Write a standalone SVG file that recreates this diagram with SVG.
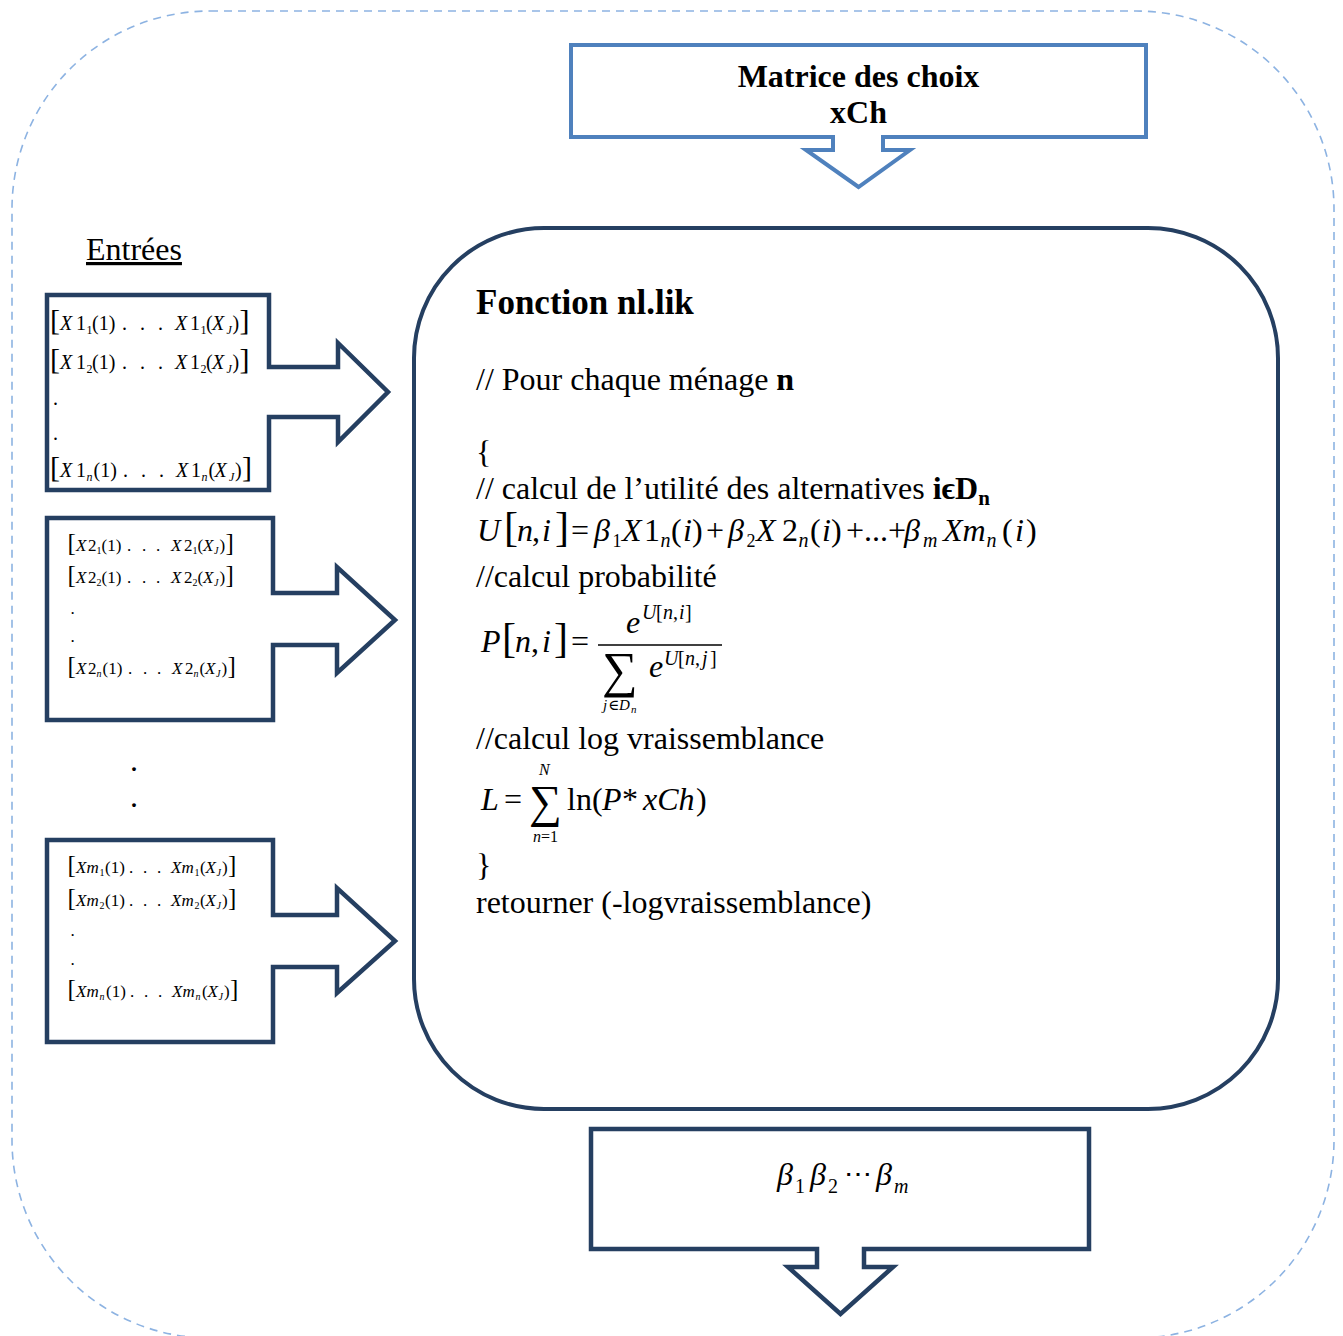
<svg xmlns="http://www.w3.org/2000/svg" width="1343" height="1336" viewBox="0 0 1343 1336">
<style>
.t{font-family:"Liberation Serif","Times New Roman","DejaVu Serif",serif;fill:#000}
.i{font-style:italic}
.n{font-style:normal}
.b{font-weight:bold}
.navy{fill:#fff;stroke:#253F61;stroke-width:4.5;stroke-linejoin:miter}
.blue{fill:#fff;stroke:#4F81BD;stroke-width:4;stroke-linejoin:miter}
.frame{fill:none;stroke:#8DB3E2;stroke-width:1.6;stroke-dasharray:8 6}
.r1{font-size:20px}
.r2{font-size:17px}
</style>
<rect id="frame" class="frame" x="12" y="11" width="1322" height="1327" rx="198" ry="198"/>

<g id="matrice-choix">
<path class="blue" d="M571,45 H1146 V137 H883 V150 H910 L858.5,187 L806,150 H833 V137 H571 Z"/>
<text class="t b" font-size="32" x="858.5" y="87" text-anchor="middle">Matrice des choix</text>
<text class="t b" font-size="32" x="858.5" y="123" text-anchor="middle">xCh</text>
</g>

<g id="entrees-label">
<text class="t" font-size="32" x="86" y="260" text-decoration="underline">Entrées</text>
</g>

<g id="input-x1">
<path class="navy" d="M47,295 H269 V367 H338 V343 L388,392 L338,442 V417 H269 V490 H47 Z"/>
<text class="t r1" y="330"><tspan x="50" font-size="30">[</tspan><tspan x="60" class="i">X</tspan><tspan x="76">1</tspan><tspan x="86.5" dy="4" font-size="12">1</tspan><tspan x="92" dy="-4">(1)</tspan><tspan x="122">.</tspan><tspan x="140">.</tspan><tspan x="158">.</tspan><tspan x="175" class="i">X</tspan><tspan x="190">1</tspan><tspan x="200.5" dy="4" font-size="12">1</tspan><tspan x="206" dy="-4">(</tspan><tspan x="212" class="i">X</tspan><tspan x="226.5" dy="4" font-size="12" class="i">J</tspan><tspan x="232.5" dy="-4">)</tspan><tspan x="239.5" font-size="30">]</tspan></text>
<text class="t r1" y="369"><tspan x="50" font-size="30">[</tspan><tspan x="60" class="i">X</tspan><tspan x="76">1</tspan><tspan x="86.5" dy="4" font-size="12">2</tspan><tspan x="92" dy="-4">(1)</tspan><tspan x="122">.</tspan><tspan x="140">.</tspan><tspan x="158">.</tspan><tspan x="175" class="i">X</tspan><tspan x="190">1</tspan><tspan x="200.5" dy="4" font-size="12">2</tspan><tspan x="206" dy="-4">(</tspan><tspan x="212" class="i">X</tspan><tspan x="226.5" dy="4" font-size="12" class="i">J</tspan><tspan x="232.5" dy="-4">)</tspan><tspan x="239.5" font-size="30">]</tspan></text>
<text class="t r1" x="53" y="405">.</text>
<text class="t r1" x="53" y="440">.</text>
<text class="t r1" y="477"><tspan x="50" font-size="30">[</tspan><tspan x="60" class="i">X</tspan><tspan x="76">1</tspan><tspan x="86.5" dy="4" font-size="12" class="i">n</tspan><tspan x="93.5" dy="-4">(1)</tspan><tspan x="123">.</tspan><tspan x="141">.</tspan><tspan x="159">.</tspan><tspan x="176" class="i">X</tspan><tspan x="191">1</tspan><tspan x="201.5" dy="4" font-size="12" class="i">n</tspan><tspan x="208.5" dy="-4">(</tspan><tspan x="214.5" class="i">X</tspan><tspan x="229" dy="4" font-size="12" class="i">J</tspan><tspan x="235" dy="-4">)</tspan><tspan x="242" font-size="30">]</tspan></text>
</g>

<g id="input-x2">
<path class="navy" d="M47,518 H273 V593 H337 V567 L395,620 L337,673 V645 H273 V720 H47 Z"/>
<text class="t r2" y="551"><tspan x="67.5" font-size="25">[</tspan><tspan x="76" class="i">X</tspan><tspan x="88">2</tspan><tspan x="96.5" dy="3" font-size="10">1</tspan><tspan x="101.5" dy="-3">(1)</tspan><tspan x="127">.</tspan><tspan x="142">.</tspan><tspan x="156">.</tspan><tspan x="171" class="i">X</tspan><tspan x="184">2</tspan><tspan x="192.5" dy="3" font-size="10">1</tspan><tspan x="197.5" dy="-3">(</tspan><tspan x="203" class="i">X</tspan><tspan x="214" dy="3" font-size="10" class="i">J</tspan><tspan x="219.5" dy="-3">)</tspan><tspan x="225.5" font-size="25">]</tspan></text>
<text class="t r2" y="583"><tspan x="67.5" font-size="25">[</tspan><tspan x="76" class="i">X</tspan><tspan x="88">2</tspan><tspan x="96.5" dy="3" font-size="10">2</tspan><tspan x="101.5" dy="-3">(1)</tspan><tspan x="127">.</tspan><tspan x="142">.</tspan><tspan x="156">.</tspan><tspan x="171" class="i">X</tspan><tspan x="184">2</tspan><tspan x="192.5" dy="3" font-size="10">2</tspan><tspan x="197.5" dy="-3">(</tspan><tspan x="203" class="i">X</tspan><tspan x="214" dy="3" font-size="10" class="i">J</tspan><tspan x="219.5" dy="-3">)</tspan><tspan x="225.5" font-size="25">]</tspan></text>
<text class="t r2" x="70.5" y="614">.</text>
<text class="t r2" x="70.5" y="642">.</text>
<text class="t r2" y="674"><tspan x="67.5" font-size="25">[</tspan><tspan x="76" class="i">X</tspan><tspan x="88">2</tspan><tspan x="96.5" dy="3" font-size="10" class="i">n</tspan><tspan x="102.5" dy="-3">(1)</tspan><tspan x="128">.</tspan><tspan x="143">.</tspan><tspan x="157">.</tspan><tspan x="172" class="i">X</tspan><tspan x="185">2</tspan><tspan x="193.5" dy="3" font-size="10" class="i">n</tspan><tspan x="199.5" dy="-3">(</tspan><tspan x="205" class="i">X</tspan><tspan x="216" dy="3" font-size="10" class="i">J</tspan><tspan x="221.5" dy="-3">)</tspan><tspan x="227.5" font-size="25">]</tspan></text>
</g>

<g id="input-xm">
<path class="navy" d="M47,840 H273 V915 H337 V888 L395,941 L337,993 V967 H273 V1042 H47 Z"/>
<text class="t r2" y="873"><tspan x="67.5" font-size="25">[</tspan><tspan x="76" class="i">Xm</tspan><tspan x="99.5" dy="3" font-size="10">1</tspan><tspan x="105" dy="-3">(1)</tspan><tspan x="129">.</tspan><tspan x="143">.</tspan><tspan x="157">.</tspan><tspan x="171" class="i">Xm</tspan><tspan x="194.5" dy="3" font-size="10">1</tspan><tspan x="200" dy="-3">(</tspan><tspan x="205.5" class="i">X</tspan><tspan x="216.5" dy="3" font-size="10" class="i">J</tspan><tspan x="222" dy="-3">)</tspan><tspan x="228" font-size="25">]</tspan></text>
<text class="t r2" y="906"><tspan x="67.5" font-size="25">[</tspan><tspan x="76" class="i">Xm</tspan><tspan x="99.5" dy="3" font-size="10">2</tspan><tspan x="105" dy="-3">(1)</tspan><tspan x="129">.</tspan><tspan x="143">.</tspan><tspan x="157">.</tspan><tspan x="171" class="i">Xm</tspan><tspan x="194.5" dy="3" font-size="10">2</tspan><tspan x="200" dy="-3">(</tspan><tspan x="205.5" class="i">X</tspan><tspan x="216.5" dy="3" font-size="10" class="i">J</tspan><tspan x="222" dy="-3">)</tspan><tspan x="228" font-size="25">]</tspan></text>
<text class="t r2" x="70.5" y="936">.</text>
<text class="t r2" x="70.5" y="965">.</text>
<text class="t r2" y="997"><tspan x="67.5" font-size="25">[</tspan><tspan x="76" class="i">Xm</tspan><tspan x="99.5" dy="3" font-size="10" class="i">n</tspan><tspan x="106" dy="-3">(1)</tspan><tspan x="130">.</tspan><tspan x="144">.</tspan><tspan x="158">.</tspan><tspan x="172" class="i">Xm</tspan><tspan x="195.5" dy="3" font-size="10" class="i">n</tspan><tspan x="202" dy="-3">(</tspan><tspan x="207.5" class="i">X</tspan><tspan x="218.5" dy="3" font-size="10" class="i">J</tspan><tspan x="224" dy="-3">)</tspan><tspan x="230" font-size="25">]</tspan></text>
</g>

<g id="ellipsis">
<text class="t" font-size="32" x="130" y="771">.</text>
<text class="t" font-size="32" x="130" y="807">.</text>
</g>

<g id="fonction-nl-lik">
<rect class="navy" x="414" y="228" width="864" height="881" rx="130" ry="130" style="stroke-width:4"/>
<text class="t b" font-size="35" x="476" y="314">Fonction nl.lik</text>
<text class="t" font-size="32" x="476" y="390">// Pour chaque ménage <tspan class="b">n</tspan></text>
<text class="t" font-size="32" x="476" y="463">{</text>
<text class="t" font-size="32" x="476" y="499">// calcul de l’utilité des alternatives <tspan class="b">iϵD</tspan><tspan class="b" font-size="21" dy="6">n</tspan></text>

<text class="t i" font-size="32" y="541"><tspan x="477">U</tspan><tspan x="504" class="n" font-size="42">[</tspan><tspan x="517">n</tspan><tspan x="532" class="n">,</tspan><tspan x="542">i</tspan><tspan x="555" class="n" font-size="42">]</tspan><tspan x="571" class="n">=</tspan><tspan x="594">β</tspan><tspan x="612.5" dy="6" font-size="18" class="n">1</tspan><tspan x="622" dy="-6">X</tspan><tspan x="644" class="n">1</tspan><tspan x="660.5" dy="6" font-size="20">n</tspan><tspan x="671" dy="-6" class="n">(</tspan><tspan x="683">i</tspan><tspan x="692" class="n">)</tspan><tspan x="706" class="n">+</tspan><tspan x="728">β</tspan><tspan x="746.5" dy="6" font-size="18" class="n">2</tspan><tspan x="756" dy="-6">X</tspan><tspan x="782" class="n">2</tspan><tspan x="798.5" dy="6" font-size="20">n</tspan><tspan x="810" dy="-6" class="n">(</tspan><tspan x="822">i</tspan><tspan x="831" class="n">)</tspan><tspan x="846" class="n">+...+</tspan><tspan x="904">β</tspan><tspan x="923" dy="6" font-size="20">m</tspan><tspan x="943" dy="-6">Xm</tspan><tspan x="986.5" dy="6" font-size="20">n</tspan><tspan x="1002" dy="-6" class="n">(</tspan><tspan x="1015">i</tspan><tspan x="1026" class="n">)</tspan></text>

<text class="t" font-size="32" x="476" y="587">//calcul probabilité</text>

<text class="t i" font-size="32" y="652"><tspan x="481">P</tspan><tspan x="502" class="n" font-size="42">[</tspan><tspan x="515">n</tspan><tspan x="531" class="n">,</tspan><tspan x="542">i</tspan><tspan x="554" class="n" font-size="42">]</tspan><tspan x="571" class="n">=</tspan></text>
<text class="t i" font-size="32" x="626" y="633">e</text>
<text class="t i" font-size="20" y="619"><tspan x="642">U</tspan><tspan x="656" class="n">[</tspan><tspan x="663">n</tspan><tspan x="673" class="n">,</tspan><tspan x="679">i</tspan><tspan x="685" class="n">]</tspan></text>
<line x1="598" y1="645" x2="722" y2="645" stroke="#000" stroke-width="1.3"/>
<text class="t" font-size="50" x="602" y="687">∑</text>
<text class="t i" font-size="32" x="649" y="677">e</text>
<text class="t i" font-size="20" y="665"><tspan x="664">U</tspan><tspan x="678" class="n">[</tspan><tspan x="685">n</tspan><tspan x="695" class="n">,</tspan><tspan x="702">j</tspan><tspan x="710" class="n">]</tspan></text>
<text class="t i" font-size="15" y="710"><tspan x="603">j</tspan><tspan x="608" class="n">∈</tspan><tspan x="619">D</tspan><tspan x="631" dy="3" font-size="11">n</tspan></text>

<text class="t" font-size="32" x="476" y="749">//calcul log vraissemblance</text>

<text class="t i" font-size="32" y="810"><tspan x="481">L</tspan><tspan x="504" class="n">=</tspan></text>
<text class="t" font-size="46" x="529" y="817">∑</text>
<text class="t i" font-size="16" x="539" y="775">N</text>
<text class="t i" font-size="16" y="842"><tspan x="533">n</tspan><tspan x="541" class="n">=1</tspan></text>
<text class="t" font-size="32" y="810"><tspan x="567">ln(</tspan><tspan x="602" class="i">P</tspan><tspan x="622">*</tspan><tspan x="643" class="i">xCh</tspan><tspan x="696">)</tspan></text>

<text class="t" font-size="32" x="476" y="876">}</text>
<text class="t" font-size="32" x="476" y="913">retourner (-logvraissemblance)</text>
</g>

<g id="sortie-beta">
<path class="navy" d="M591,1129 H1089 V1249 H864 V1267 H893 L840.5,1314 L788,1267 H817 V1249 H591 Z"/>
<text class="t i" font-size="32" y="1185"><tspan x="777">β</tspan><tspan x="795" dy="8" font-size="20" class="n">1</tspan><tspan x="810" dy="-8">β</tspan><tspan x="828" dy="8" font-size="20" class="n">2</tspan><tspan x="844" dy="-10" font-size="28" class="n">⋯</tspan><tspan x="876" dy="2">β</tspan><tspan x="894" dy="8" font-size="20">m</tspan></text>
</g>

<g id="connectors"></g>
</svg>
